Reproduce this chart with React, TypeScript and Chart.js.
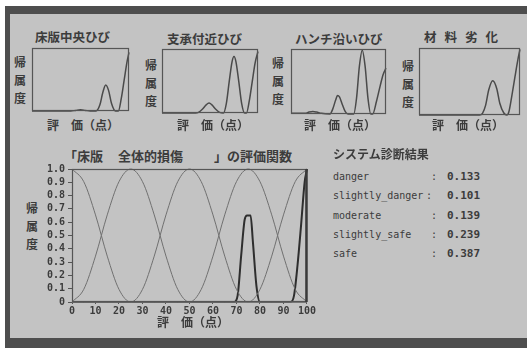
import React, { useEffect, useRef } from 'react';
import { Chart, registerables } from 'chart.js';
Chart.register(...registerables);

// ---- Large chart: membership functions (score 0..100) ----
const SCORE_STEPS = [0, 5, 10, 15, 20, 25, 30, 35, 40, 45, 50, 55, 60, 65, 70, 75, 80, 85, 90, 95, 100];
const DANGER = [1, 0.905, 0.655, 0.345, 0.095, 0, 0, 0, 0, 0, 0, 0, 0, 0, 0, 0, 0, 0, 0, 0, 0];
const SLIGHTLY_DANGER = [0, 0.095, 0.345, 0.655, 0.905, 1, 0.905, 0.655, 0.345, 0.095, 0, 0, 0, 0, 0, 0, 0, 0, 0, 0, 0];
const MODERATE = [0, 0, 0, 0, 0, 0, 0.095, 0.345, 0.655, 0.905, 1, 0.905, 0.655, 0.345, 0.095, 0, 0, 0, 0, 0, 0];
const SLIGHTLY_SAFE = [0, 0, 0, 0, 0, 0, 0, 0, 0, 0, 0, 0.095, 0.345, 0.655, 0.905, 1, 0.905, 0.655, 0.345, 0.095, 0];
const SAFE = [0, 0, 0, 0, 0, 0, 0, 0, 0, 0, 0, 0, 0, 0, 0, 0, 0.095, 0.345, 0.655, 0.905, 1];

const RESULT_X = [0, 69, 70.5, 72, 73.5, 74.5, 76, 77, 78.5, 80, 93, 94.5, 96, 97.5, 99, 100];
const RESULT_Y = [0, 0, 0.05, 0.35, 0.62, 0.65, 0.65, 0.45, 0.12, 0, 0, 0.05, 0.28, 0.58, 0.9, 1.0];

const Y_TICKS = [0, 0.1, 0.2, 0.3, 0.4, 0.5, 0.6, 0.7, 0.8, 0.9, 1.0];
const X_TICKS = [0, 10, 20, 30, 40, 50, 60, 70, 80, 90, 100];

// ---- Small charts (x: % of score range, y: membership) ----
const C1_X = [0, 40, 45, 50, 55, 60, 66, 70, 73, 76, 79, 82, 86, 89, 92, 95, 98, 100];
const C1_Y = [0, 0, 0.01, 0.02, 0.01, 0, 0, 0.1, 0.3, 0.42, 0.33, 0.12, 0, 0, 0.2, 0.5, 0.8, 0.95];

const C2_X = [0, 35, 38, 42, 46, 49, 52, 56, 60, 64, 67, 70, 73, 75, 77, 80, 83, 86, 88, 91, 94, 97, 100];
const C2_Y = [0, 0, 0.01, 0.06, 0.13, 0.16, 0.13, 0.06, 0.01, 0, 0.15, 0.5, 0.82, 0.9, 0.82, 0.5, 0.15, 0, 0, 0.2, 0.5, 0.8, 0.98];

const C3_X = [0, 15, 19, 23, 27, 32, 41, 44, 47, 49, 51, 54, 57, 60, 66, 69, 72, 75, 78, 81, 84, 86, 90, 94, 97, 100];
const C3_Y = [0.01, 0.01, 0.03, 0.04, 0.03, 0.01, 0, 0.08, 0.22, 0.29, 0.27, 0.15, 0.04, 0, 0, 0.25, 0.75, 1.0, 0.75, 0.25, 0, 0, 0.2, 0.45, 0.62, 0.72];

const C4_X = [0, 60, 63, 66, 69, 73, 77, 80, 84, 87, 89, 92, 95, 98, 100];
const C4_Y = [0, 0, 0.03, 0.15, 0.38, 0.52, 0.4, 0.18, 0.03, 0, 0.05, 0.3, 0.58, 0.85, 1.0];

const RESULT_LABELS = ['danger', 'slightly_danger', 'moderate', 'slightly_safe', 'safe'];
const RESULT_VALUES = ['0.133', '0.101', '0.139', '0.239', '0.387'];

const BG = '#c3c3c3';
const INK = '#3c3c3c';
const LINE = '#555555';
const CJK = "'Noto Sans CJK JP', sans-serif";
const MONO = "'DejaVu Sans Mono', monospace";

const makeBox = (rightWidth: number) => ({
  id: 'boxFrame',
  afterDraw(chart: any) {
    const { ctx, chartArea: a } = chart;
    ctx.save();
    ctx.strokeStyle = LINE;
    ctx.lineWidth = 1.2;
    ctx.strokeRect(a.left + 0.5, a.top + 0.5, a.right - a.left - 1, a.bottom - a.top - 1);
    if (rightWidth > 1.2) {
      ctx.lineWidth = rightWidth;
      ctx.strokeStyle = '#3a3a3a';
      ctx.beginPath();
      ctx.moveTo(a.right - 0.5, a.top);
      ctx.lineTo(a.right - 0.5, a.bottom);
      ctx.stroke();
    }
    ctx.restore();
  },
});

function pts(xs: number[], ys: number[]) {
  return xs.map((x, i) => ({ x, y: ys[i] }));
}

function SmallChart(props: { left: number; top: number; width: number; height: number; xs: number[]; ys: number[] }) {
  const ref = useRef<HTMLCanvasElement>(null);
  useEffect(() => {
    const chart = new Chart(ref.current!, {
      type: 'line',
      data: {
        datasets: [
          {
            data: pts(props.xs, props.ys),
            borderColor: '#4a4a4a',
            borderWidth: 1.5,
            pointRadius: 0,
            cubicInterpolationMode: 'monotone',
            clip: 3,
          } as any,
        ],
      },
      options: {
        animation: false,
        responsive: false,
        events: [],
        layout: { padding: 2 },
        plugins: { legend: { display: false }, tooltip: { enabled: false } },
        scales: {
          x: { type: 'linear', min: 0, max: 100, display: false },
          y: { min: 0, max: 1.02, display: false },
        },
      },
      plugins: [makeBox(0)],
    });
    return () => chart.destroy();
  }, []);
  return (
    <canvas
      ref={ref}
      width={props.width + 4}
      height={props.height + 4}
      style={{ position: 'absolute', left: props.left - 2, top: props.top - 2, width: props.width + 4, height: props.height + 4 }}
    />
  );
}

function BigChart() {
  const ref = useRef<HTMLCanvasElement>(null);
  useEffect(() => {
    const thin = (d: number[]) => ({
      data: pts(SCORE_STEPS, d),
      borderColor: '#707070',
      borderWidth: 1,
      pointRadius: 0,
      cubicInterpolationMode: 'monotone',
      clip: 2,
    });
    const chart = new Chart(ref.current!, {
      type: 'line',
      data: {
        datasets: [
          thin(DANGER),
          thin(SLIGHTLY_DANGER),
          thin(MODERATE),
          thin(SLIGHTLY_SAFE),
          thin(SAFE),
          {
            data: pts(RESULT_X, RESULT_Y),
            borderColor: '#2e2e2e',
            borderWidth: 2,
            pointRadius: 0,
            cubicInterpolationMode: 'monotone',
            clip: 3,
          },
        ] as any,
      },
      options: {
        animation: false,
        responsive: false,
        events: [],
        layout: { padding: { top: 8, right: 8, left: 0, bottom: 0 } },
        plugins: { legend: { display: false }, tooltip: { enabled: false } },
        scales: {
          x: {
            type: 'linear',
            min: 0,
            max: 100,
            afterFit: (s: any) => { s.height = 18; },
            afterBuildTicks: (s: any) => { s.ticks = X_TICKS.map((v) => ({ value: v })); },
            grid: { display: true, drawOnChartArea: false, tickLength: 2, color: LINE },
            border: { display: false },
            ticks: { autoSkip: false, maxRotation: 0, padding: 1, color: INK, font: { family: 'DejaVu Sans Mono', size: 10, weight: 'bold' } },
          },
          y: {
            min: 0,
            max: 1,
            afterFit: (s: any) => { s.width = 32; },
            afterBuildTicks: (s: any) => { s.ticks = Y_TICKS.map((v) => ({ value: v })); },
            grid: { display: true, drawOnChartArea: false, tickLength: 4, color: LINE },
            border: { display: false },
            ticks: {
              autoSkip: false,
              padding: 3,
              color: INK,
              font: { family: 'DejaVu Sans Mono', size: 10, weight: 'bold' },
              callback: (v: any) => (Number(v) === 0 ? '0' : Number(v).toFixed(1)),
            },
          },
        },
      },
      plugins: [makeBox(2.5)],
    });
    return () => chart.destroy();
  }, []);
  return <canvas ref={ref} width={277} height={160} style={{ position: 'absolute', left: 40, top: 160, width: 277, height: 160 }} />;
}

function Txt(props: { left: number; top: number; size: number; bold?: boolean; mono?: boolean; spacing?: number; children: any }) {
  return (
    <div
      style={{
        position: 'absolute',
        left: props.left,
        top: props.top,
        fontSize: props.size,
        lineHeight: 1.25,
        fontWeight: props.bold ? 700 : 400,
        fontFamily: props.mono ? MONO : CJK,
        letterSpacing: props.spacing ? props.spacing : 0,
        color: INK,
        whiteSpace: 'pre',
      }}
    >
      {props.children}
    </div>
  );
}

function VLabel(props: { left: number; top: number }) {
  return (
    <div style={{ position: 'absolute', left: props.left, top: props.top, fontSize: 12, lineHeight: '18px', fontWeight: 700, fontFamily: CJK, color: INK, width: 13 }}>
      <div>帰</div>
      <div>属</div>
      <div>度</div>
    </div>
  );
}

export default function App() {
  return (
    <div style={{ position: 'fixed', left: 0, top: 0, width: 529, height: 348, background: '#fff', overflow: 'hidden' }}>
      {/* screen frame */}
      <div style={{ position: 'absolute', left: 5, top: 6, width: 522, height: 342, background: '#4e4e4e' }} />
      <div style={{ position: 'absolute', left: 10, top: 14, width: 517, height: 324, background: BG }} />

      {/* small charts */}
      <Txt left={35} top={29} size={12.5} bold>床版中央ひび</Txt>
      <Txt left={167} top={31} size={12.5} bold>支承付近ひび</Txt>
      <Txt left={295} top={31} size={12.5} bold>ハンチ沿いひび</Txt>
      <Txt left={424} top={29} size={12.5} bold spacing={8}>材料劣化</Txt>

      <VLabel left={14} top={53} />
      <VLabel left={145} top={56} />
      <VLabel left={272} top={54} />
      <VLabel left={402} top={57} />

      <SmallChart left={32} top={48} width={97} height={63} xs={C1_X} ys={C1_Y} />
      <SmallChart left={162} top={49} width={96} height={64} xs={C2_X} ys={C2_Y} />
      <SmallChart left={291} top={49} width={95} height={65} xs={C3_X} ys={C3_Y} />
      <SmallChart left={419} top={48} width={101} height={67} xs={C4_X} ys={C4_Y} />

      <Txt left={47} top={117} size={12} bold>評　価（点）</Txt>
      <Txt left={177} top={117} size={12} bold>評　価（点）</Txt>
      <Txt left={304} top={117} size={12} bold>評　価（点）</Txt>
      <Txt left={432} top={117} size={12} bold>評　価（点）</Txt>

      {/* large chart */}
      <Txt left={64} top={148} size={13} bold>「床版</Txt>
      <Txt left={118} top={148} size={13} bold>全体的損傷</Txt>
      <Txt left={214} top={148} size={13} bold>」の評価関数</Txt>
      <VLabel left={26} top={199} />
      <BigChart />
      <Txt left={157} top={314} size={12} bold>評　価（点）</Txt>

      {/* diagnosis results */}
      <Txt left={333} top={146} size={12} bold>システム診断結果</Txt>
      {RESULT_LABELS.map((lab, i) => (
        <React.Fragment key={lab}>
          <Txt left={333} top={171 + i * 19.3} size={10} mono>{lab}</Txt>
          <Txt left={lab === 'slightly_danger' ? 426 : 431} top={171 + i * 19.3} size={10} mono>:</Txt>
          <Txt left={447} top={170 + i * 19.3} size={11} mono bold>{RESULT_VALUES[i]}</Txt>
        </React.Fragment>
      ))}
    </div>
  );
}
